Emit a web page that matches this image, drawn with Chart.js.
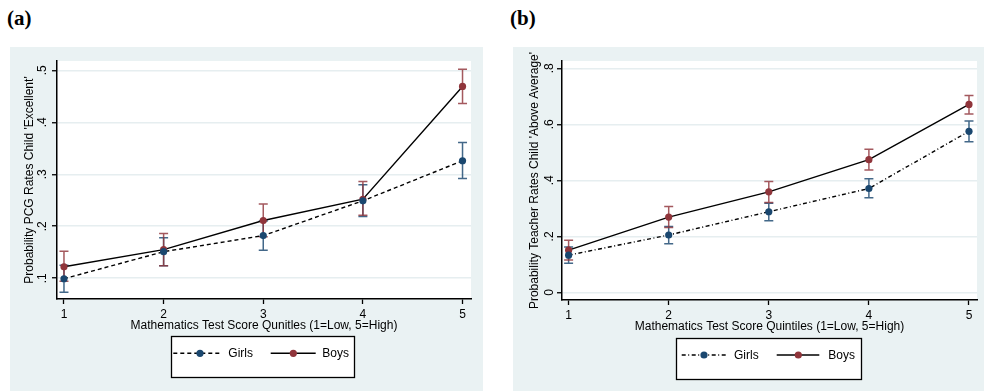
<!DOCTYPE html>
<html><head><meta charset="utf-8">
<script src="https://cdn.jsdelivr.net/npm/chart.js@4.4.1/dist/chart.umd.min.js"></script>
<style>
body{margin:0;background:#fff;width:984px;height:391px;position:relative;overflow:hidden;font-family:"Liberation Sans",Arial,sans-serif}
.lbl{position:absolute;font-family:"Liberation Serif","Times New Roman",serif;font-weight:bold;font-size:21px;line-height:1}
canvas{position:absolute;}
</style></head><body>
<div class="lbl" style="left:7px;top:8px">(a)</div>
<div class="lbl" style="left:510px;top:8px">(b)</div>
<canvas id="ca" width="473" height="344" style="left:10px;top:47px"></canvas>
<canvas id="cb" width="471" height="344" style="left:513px;top:47px"></canvas>
<script>
// ---- data ----
const quintiles = [1, 2, 3, 4, 5];
const xTicks = [1, 2, 3, 4, 5];

// Panel (a): PCG rates child 'Excellent'
const aGirls   = [0.099, 0.151, 0.182, 0.249, 0.326];
const aGirlsLo = [0.073, 0.124, 0.154, 0.219, 0.292];
const aGirlsHi = [0.125, 0.178, 0.210, 0.280, 0.361];
const aBoys    = [0.122, 0.155, 0.211, 0.252, 0.469];
const aBoysLo  = [0.094, 0.124, 0.180, 0.221, 0.436];
const aBoysHi  = [0.152, 0.186, 0.243, 0.286, 0.502];
const aYTicks  = [0.1, 0.2, 0.3, 0.4, 0.5];
const aYLabels = ['.1', '.2', '.3', '.4', '.5'];
const aYTitle  = "Probability PCG Rates Child 'Excellent'";
const aXTitle  = "Mathematics Test Score Qunitles (1=Low, 5=High)";

// Panel (b): Teacher rates child 'Above Average'
const bGirls   = [0.133, 0.205, 0.288, 0.371, 0.575];
const bGirlsLo = [0.104, 0.174, 0.256, 0.338, 0.538];
const bGirlsHi = [0.162, 0.235, 0.318, 0.406, 0.612];
const bBoys    = [0.151, 0.269, 0.359, 0.474, 0.671];
const bBoysLo  = [0.116, 0.232, 0.321, 0.437, 0.637];
const bBoysHi  = [0.186, 0.307, 0.396, 0.511, 0.703];
const bYTicks  = [0, 0.2, 0.4, 0.6, 0.8];
const bYLabels = ['0', '.2', '.4', '.6', '.8'];
const bYTitle  = "Probability Teacher Rates Child 'Above Average'";
const bXTitle  = "Mathematics Test Score Quintiles (1=Low, 5=High)";

const seriesNames = ['Girls', 'Boys'];

// ---- styles ----
const BLUE = '#1a476f', RED = '#90353b';
const BLUE_CI = 'rgba(26,71,111,0.82)', RED_CI = 'rgba(144,53,59,0.82)';
const BG = '#eaf2f3', GRID = '#e6eef0';
const FONT = '12px "Liberation Sans", Arial, sans-serif';

const stataPlugin = {
  id: 'stata',
  beforeDraw(chart, args, o) {
    const {ctx, chartArea: a} = chart;
    ctx.save();
    ctx.fillStyle = BG; ctx.fillRect(0, 0, chart.width, chart.height);
    ctx.fillStyle = '#fff'; ctx.fillRect(a.left, a.top, a.right - a.left, a.bottom - a.top);
    ctx.restore();
  },
  beforeDatasetsDraw(chart, args, o) {
    const {ctx, scales: {x, y}} = chart;
    ctx.save();
    ctx.lineWidth = 1.5;
    o.bars.forEach(b => {
      ctx.strokeStyle = b.color;
      b.lo.forEach((lo, i) => {
        const px = x.getPixelForValue(quintiles[i]);
        const p1 = y.getPixelForValue(lo), p2 = y.getPixelForValue(b.hi[i]);
        ctx.beginPath();
        ctx.moveTo(px, p1); ctx.lineTo(px, p2);
        ctx.moveTo(px - 4.5, p1); ctx.lineTo(px + 4.5, p1);
        ctx.moveTo(px - 4.5, p2); ctx.lineTo(px + 4.5, p2);
        ctx.stroke();
      });
    });
    ctx.restore();
  },
  afterDraw(chart, args, o) {
    const {ctx, scales: {y}, chartArea: a} = chart;
    ctx.save();
    ctx.fillStyle = '#000'; ctx.font = FONT;
    ctx.textAlign = 'center'; ctx.textBaseline = 'middle';
    y.ticks.forEach(t => {
      const py = y.getPixelForValue(t.value);
      ctx.save(); ctx.translate(a.left - o.tickGap, py); ctx.rotate(-Math.PI / 2);
      ctx.fillText(t.label, 0, 0); ctx.restore();
    });
    ctx.save(); ctx.translate(a.left - o.titleGap, (a.top + a.bottom) / 2); ctx.rotate(-Math.PI / 2);
    ctx.fillText(o.yTitle, 0, 0); ctx.restore();

    // legend
    const L = o.legend;
    ctx.fillStyle = '#fff'; ctx.fillRect(L.x, L.y, L.w, L.h);
    ctx.strokeStyle = '#000'; ctx.lineWidth = 1.3; ctx.strokeRect(L.x, L.y, L.w, L.h);
    chart.data.datasets.forEach((ds, i) => {
      const it = L.items[i];
      ctx.strokeStyle = ds.borderColor; ctx.lineWidth = ds.borderWidth;
      ctx.setLineDash(ds.borderDash || []);
      ctx.beginPath(); ctx.moveTo(it.x0, L.row); ctx.lineTo(it.x1, L.row); ctx.stroke();
      ctx.setLineDash([]);
      ctx.fillStyle = ds.pointBackgroundColor;
      ctx.beginPath(); ctx.arc(it.m, L.row, ds.pointRadius, 0, Math.PI * 2); ctx.fill();
      ctx.fillStyle = '#000'; ctx.textAlign = 'left';
      ctx.fillText(ds.label, it.t, L.row + 0.5);
    });
    ctx.restore();
  }
};

function makePanel(id, p) {
  const mk = (arr) => quintiles.map((q, i) => ({x: q, y: arr[i]}));
  new Chart(document.getElementById(id), {
    type: 'line',
    data: {
      datasets: [
        {label: seriesNames[0], data: mk(p.girls), borderColor: '#000', borderWidth: 1.4, borderDash: p.girlsDash,
         pointRadius: 3.6, pointBackgroundColor: BLUE, pointBorderColor: BLUE, pointBorderWidth: 0, tension: 0},
        {label: seriesNames[1], data: mk(p.boys), borderColor: '#000', borderWidth: 1.4, borderDash: [],
         pointRadius: 3.6, pointBackgroundColor: RED, pointBorderColor: RED, pointBorderWidth: 0, tension: 0}
      ]
    },
    options: {
      responsive: false, animation: false, devicePixelRatio: 1,
      layout: {padding: p.pad},
      scales: {
        x: {type: 'linear', min: p.xmin, max: p.xmax,
            afterBuildTicks: s => { s.ticks = xTicks.map(v => ({value: v})); },
            afterFit: s => { s.height = 34; },
            ticks: {color: '#000', font: {family: '"Liberation Sans", Arial, sans-serif', size: 12}, padding: 3, callback: v => String(v)},
            grid: {drawOnChartArea: false, tickColor: '#000', tickLength: 5, tickWidth: 1.3},
            border: {color: '#000', width: 1.5},
            title: {display: true, text: p.xTitle, color: '#000', padding: 0,
                    font: {family: '"Liberation Sans", Arial, sans-serif', size: 12}}},
        y: {min: p.ymin, max: p.ymax,
            afterBuildTicks: s => { s.ticks = p.yTicks.map(v => ({value: v})); },
            afterFit: s => { s.width = p.yWidth; },
            ticks: {display: false, callback: (v, i) => p.yLabels[i]},
            grid: {color: GRID, lineWidth: 1.5, tickColor: '#000', tickLength: 5, tickWidth: 1.3},
            border: {color: '#000', width: 1.5}}
      },
      plugins: {
        legend: {display: false}, tooltip: {enabled: false},
        stata: {
          tickGap: p.tickGap, titleGap: 27, yTitle: p.yTitle,
          bars: [{lo: p.girlsLo, hi: p.girlsHi, color: BLUE_CI}, {lo: p.boysLo, hi: p.boysHi, color: RED_CI}],
          legend: p.legend
        }
      }
    },
    plugins: [stataPlugin]
  });
}

makePanel('ca', {
  girls: aGirls, girlsLo: aGirlsLo, girlsHi: aGirlsHi, boys: aBoys, boysLo: aBoysLo, boysHi: aBoysHi,
  girlsDash: [4, 3], yTicks: aYTicks, yLabels: aYLabels, yTitle: aYTitle, xTitle: aXTitle,
  xmin: 0.93, xmax: 5.085, ymin: 0.06, ymax: 0.518,
  pad: {left: 0, top: 14, right: 12, bottom: 58}, yWidth: 47, tickGap: 14,
  legend: {x: 161.5, y: 289.5, w: 183, h: 41, row: 306.3,
           items: [{x0: 163.3, x1: 211, m: 190, t: 218.3}, {x0: 260.7, x1: 305.7, m: 283.3, t: 312.3}]}
});

makePanel('cb', {
  girls: bGirls, girlsLo: bGirlsLo, girlsHi: bGirlsHi, boys: bBoys, boysLo: bBoysLo, boysHi: bBoysHi,
  girlsDash: [4, 2.5, 1, 2.5], yTicks: bYTicks, yLabels: bYLabels, yTitle: bYTitle, xTitle: bXTitle,
  xmin: 0.934, xmax: 5.08, ymin: -0.027, ymax: 0.826,
  pad: {left: 0, top: 14, right: 7, bottom: 57}, yWidth: 49, tickGap: 12,
  legend: {x: 163.5, y: 291.5, w: 185, h: 41, row: 308,
           items: [{x0: 168.7, x1: 214.7, m: 191, t: 221}, {x0: 263.7, x1: 306.3, m: 285.3, t: 315.3}]}
});
</script>
</body></html>
